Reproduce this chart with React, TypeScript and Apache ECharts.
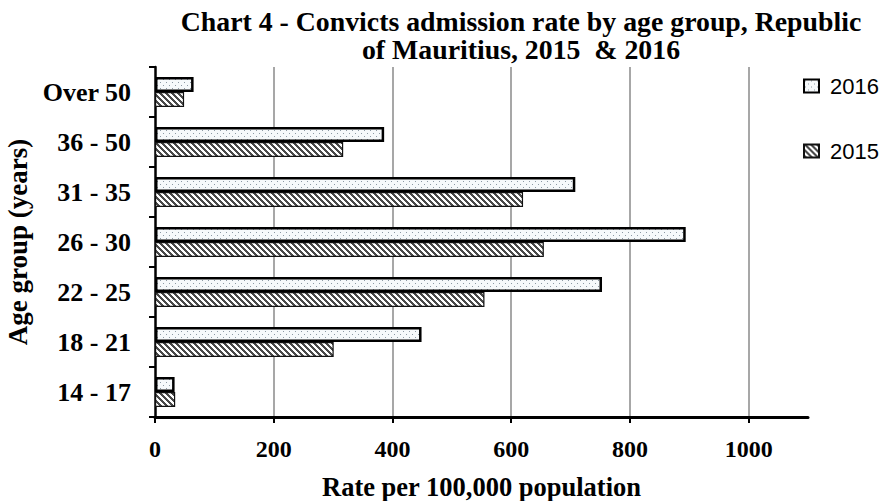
import React, { useEffect, useRef } from "react";
import * as echarts from "echarts";

// Convicts admission rate per 100,000 population, by age group
const categories = ["14 - 17", "18 - 21", "22 - 25", "26 - 30", "31 - 35", "36 - 50", "Over 50"];
const rate2016 = [33, 449, 753, 894, 708, 386, 65];
const rate2015 = [34, 301, 555, 655, 620, 317, 49];
const xTicks = [0, 200, 400, 600, 800, 1000];
const seriesNames = ["2016", "2015"];

const SERIF = "'Liberation Serif', 'Times New Roman', serif";

// light dotted fill
function dotTile(): HTMLCanvasElement {
  const c = document.createElement("canvas");
  c.width = 6;
  c.height = 6;
  const ctx = c.getContext("2d")!;
  ctx.fillStyle = "#f6f9fb";
  ctx.fillRect(0, 0, 6, 6);
  ctx.fillStyle = "#8c99a4";
  ctx.fillRect(1, 1, 1, 1);
  ctx.fillRect(4, 4, 1, 1);
  return c;
}

// diagonal "\" hatching
function hatchTile(): HTMLCanvasElement {
  const n = 6;
  const c = document.createElement("canvas");
  c.width = n;
  c.height = n;
  const ctx = c.getContext("2d")!;
  ctx.fillStyle = "#ffffff";
  ctx.fillRect(0, 0, n, n);
  ctx.fillStyle = "#4a4a4a";
  for (let y = 0; y < n; y++) {
    for (let x = 0; x < n; x++) {
      if ((((x - y) % n) + n) % n < 3) ctx.fillRect(x, y, 1, 1);
    }
  }
  return c;
}

export default function App() {
  const ref = useRef<HTMLDivElement>(null);

  useEffect(() => {
    if (!ref.current) return;
    const chart = echarts.init(ref.current, undefined, { renderer: "svg" });
    const dots = { image: dotTile(), repeat: "repeat" };
    const hatch = { image: hatchTile(), repeat: "repeat" };

    chart.setOption({
      animation: false,
      backgroundColor: "#ffffff",
      title: {
        text: "Chart 4 - Convicts admission rate by age group, Republic\nof Mauritius, 2015  & 2016",
        left: 516,
        top: 2,
        textAlign: "center",
        textStyle: {
          fontFamily: SERIF,
          fontWeight: "bold",
          fontSize: 27.8,
          lineHeight: 28,
          color: "#000",
        },
      },
      legend: {
        orient: "vertical",
        left: 803,
        top: 75,
        padding: 0,
        itemWidth: 15,
        itemHeight: 13,
        itemGap: 43,
        icon: "rect",
        data: seriesNames,
        textStyle: {
          fontFamily: "'Liberation Sans', Arial, sans-serif",
          fontSize: 22,
          color: "#000",
          padding: [0, 0, 0, 6],
        },
      },
      grid: { left: 155, top: 67, right: 78, bottom: 84, containLabel: false, outerBoundsMode: "none" },
      xAxis: {
        type: "value",
        min: 0,
        max: 1100,
        interval: 200,
        name: "Rate per 100,000 population",
        nameLocation: "middle",
        nameGap: 56,
        nameTextStyle: { fontFamily: SERIF, fontWeight: "bold", fontSize: 26.5, color: "#000" },
        axisLine: { show: true, lineStyle: { color: "#000", width: 3 } },
        axisTick: { show: true, length: 6, customValues: xTicks, lineStyle: { color: "#000", width: 2 } },
        axisLabel: {
          customValues: xTicks,
          formatter: (v: number) => String(v),
          margin: 20,
          fontFamily: SERIF,
          fontWeight: "bold",
          fontSize: 24,
          color: "#000",
        },
        splitLine: {
          show: true,
          showMinLine: false,
          lineStyle: { color: "#8a8a8a", width: 1.5 },
        },
      },
      yAxis: {
        type: "category",
        data: categories,
        name: "Age group (years)",
        nameLocation: "middle",
        nameRotate: 90,
        nameGap: 121,
        nameTextStyle: { fontFamily: SERIF, fontWeight: "bold", fontSize: 27, color: "#000" },
        axisLine: { show: true, lineStyle: { color: "#000", width: 2.5 } },
        axisTick: { show: true, length: 6, lineStyle: { color: "#000", width: 2 } },
        axisLabel: {
          margin: 24,
          fontFamily: SERIF,
          fontWeight: "bold",
          fontSize: 26,
          color: "#000",
        },
      },
      series: [
        {
          name: seriesNames[0],
          type: "bar",
          data: rate2016,
          barWidth: 15,
          barGap: "0%",
          itemStyle: { color: dots, borderColor: "#000", borderWidth: 2.5 },
        },
        {
          name: seriesNames[1],
          type: "bar",
          data: rate2015,
          barWidth: 15,
          barGap: "0%",
          itemStyle: { color: hatch, borderColor: "#111", borderWidth: 1.2 },
        },
      ],
    });

    return () => chart.dispose();
  }, []);

  return (
    <div
      ref={ref}
      style={{ position: "fixed", left: 0, top: 0, width: 886, height: 501 }}
    />
  );
}
